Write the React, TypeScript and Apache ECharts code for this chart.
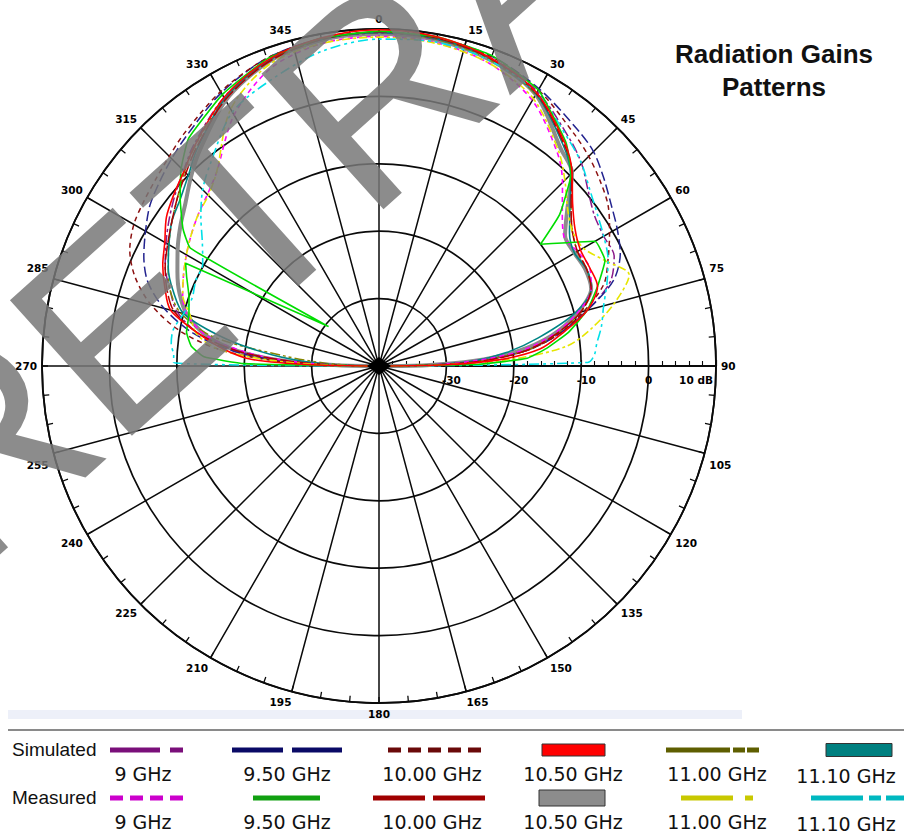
import React, { useEffect, useRef } from "react";
import * as echarts from "echarts";

// ---------- data (compass angle in degrees, gain in dB) ----------
const ANGLES = [-90, -89, -87, -84, -80, -75, -70, -65, -60, -55, -50, -45, -40, -30, -20, -10, 0, 10, 20, 30, 40, 45, 50, 55, 60, 65, 70, 75, 80, 84, 87, 89, 90];
const GREEN_ANGLES = [-90, -89, -87, -84, -80, -75, -70, -65, -62, -52, -58, -55, -50, -45, -40, -30, -20, -10, 0, 10, 20, 30, 40, 45, 50, 53, 60, 65, 70, 75, 80, 84, 87, 89, 90];

const SIM_9 = [-40, -32, -25, -19, -13, -9, -7, -5, -3.5, -2, -0.5, 1, 2.8, 6, 8.2, 9.2, 9.4, 9.2, 8.6, 7, 4, 2.5, 0.5, -1, -1.5, -1.5, -3.5, -8, -13, -18, -25, -32, -40];
const SIM_9_5 = [-40, -33, -25, -18, -12, -7, -3.5, -1.5, 0, 1.5, 2.5, 3.5, 4.5, 6.8, 8.6, 9.3, 9.5, 9.4, 8.9, 7.5, 5.8, 5, 3.5, 2, 0.8, -0.5, -3, -8, -13, -18, -25, -32, -40];
const SIM_10 = [-40, -32, -24, -16, -10, -5, -1.5, 0.8, 2, 2.6, 3.2, 4, 5, 7, 8.6, 9.3, 9.5, 9.3, 8.8, 7.3, 5, 4, 2.8, 1.5, -0.5, -2.5, -4.5, -8.5, -13, -18, -25, -32, -40];
const SIM_10_5 = [-40, -30, -21, -17, -13, -8, -6.2, -4.6, -3.3, -1.5, -0.3, 0.9, 2.6, 6, 8.3, 9.4, 9.9, 9.6, 8.6, 6.8, 3, 0.5, -2.5, -4.5, -5.5, -5.5, -5.5, -8, -12.5, -16, -22, -30, -40];
const SIM_11 = [-40, -36, -32, -26, -15, -9.5, -7, -5.5, -4, -2.5, -1, 0.8, 2.5, 5.8, 8.2, 9.2, 9.5, 9.2, 8.3, 6.5, 2.8, 0.4, -2.8, -5, -6, -6, -6.5, -9, -13.5, -18, -25, -32, -40];
const SIM_11_1 = [-40, -35, -30, -24, -17, -10, -7.5, -5.5, -4, -2.5, -1.5, 0, 2, 5.8, 8.2, 9.2, 9.5, 9.3, 8.5, 6.6, 2.6, 0.2, -3, -5.5, -6.5, -6, -6.5, -10, -16, -21, -26, -33, -40];

const MEAS_9 = [-40, -34, -27, -20, -14, -10.5, -9, -8, -7, -6, -5, -4, -2.5, 3, 7, 8.6, 8.9, 8.7, 7.8, 5.5, 1.2, -1.5, -4.5, -6.5, -6, -5.5, -6.5, -9.5, -14, -19, -26, -33, -40];
const MEAS_9_5 = [-40, -20, -14, -12, -11, -10.8, -10, -8.5, -7.5, -30.5, -7, -4.5, -1.5, 1.5, 4, 6.5, 8.5, 9.4, 9.7, 9.6, 9, 7.3, 3.2, 0.3, -5, -10, -3, -3, -5.5, -8, -11.5, -15, -18, -25, -40];
const MEAS_10 = [-40, -34, -27, -19, -13, -8.5, -6.5, -5, -3.8, -2.5, -1, 0.5, 2.2, 5.6, 8, 9.2, 9.6, 9.4, 8.5, 6.7, 2.8, 0.5, -2.8, -5, -6, -6, -6.5, -9, -13.5, -18, -24, -32, -40];
const MEAS_10_5 = [-40, -34, -26, -19, -14, -10.5, -8.5, -7, -5.5, -4, -2.5, -0.5, 1.5, 5.5, 8, 9.1, 9.3, 9.1, 8.3, 6.5, 2, 0.5, -3.5, -6.3, -6.5, -6.2, -6.5, -9.5, -14, -19.5, -26, -33, -40];
const MEAS_11 = [-40, -33, -24, -16, -12.5, -11, -9, -8, -7, -6, -5, -4.2, -2.5, 4, 7.6, 8.6, 8.8, 8.6, 7.8, 5.8, 1.5, -1, -3.5, -5, -5, -3, -0.5, -3.8, -8, -12, -20, -30, -40];
const MEAS_11_1 = [-40, -9.5, -9.5, -9, -9, -10, -10.5, -10, -9.8, -8, -5.5, -3, -1, 3.5, 5.5, 7.5, 8.5, 8.8, 8.2, 6.8, 3.8, 2.5, 0.8, -0.5, -1.5, -2.5, -4, -5.5, -6.5, -7.5, -8, -9, -40];

const FREQUENCIES = ["9 GHz", "9.50 GHz", "10.00 GHz", "10.50 GHz", "11.00 GHz", "11.10 GHz"];
const ROW_NAMES = ["Simulated", "Measured"];
const TITLE_LINES = ["Radiation Gains", "Patterns"];
const WATERMARK = "RETRACTED";
const RADIUS_MIN = -40;
const RADIUS_MAX = 10;
const RADIUS_STEP = 10;
const ANGLE_STEP = 15;

const SERIES_DEFS = [
  { row: 1, col: 3, angles: ANGLES, values: MEAS_10_5 },
  { row: 0, col: 0, angles: ANGLES, values: SIM_9 },
  { row: 0, col: 1, angles: ANGLES, values: SIM_9_5 },
  { row: 0, col: 2, angles: ANGLES, values: SIM_10 },
  { row: 0, col: 4, angles: ANGLES, values: SIM_11 },
  { row: 0, col: 5, angles: ANGLES, values: SIM_11_1 },
  { row: 1, col: 0, angles: ANGLES, values: MEAS_9 },
  { row: 1, col: 2, angles: ANGLES, values: MEAS_10 },
  { row: 1, col: 4, angles: ANGLES, values: MEAS_11 },
  { row: 1, col: 5, angles: ANGLES, values: MEAS_11_1 },
  { row: 1, col: 1, angles: GREEN_ANGLES, values: MEAS_9_5 },
  { row: 0, col: 3, angles: ANGLES, values: SIM_10_5 },
];

// ---------- styles ----------
const CX = 379;
const CY = 366;
const RADIUS = 337;

type LegendSpec = { kind: "line" | "rect"; x: number; len: number; dash?: number[]; h?: number };
type Sty = { color: string; legendColor: string; width: number; dash: number[] | "solid"; legend: LegendSpec };

// keyed "row-col"
const STYLES: Record<string, Sty> = {
  "0-0": { color: "#8a1a8a", legendColor: "#7a0f7a", width: 1.5, dash: [10, 3, 3, 3], legend: { kind: "line", x: 110, len: 73, dash: [50, 10, 13, 40] } },
  "0-1": { color: "#23238f", legendColor: "#0a0a66", width: 1.5, dash: [10, 4], legend: { kind: "line", x: 232, len: 110, dash: [51, 9] } },
  "0-2": { color: "#8b1010", legendColor: "#6a0a0a", width: 1.5, dash: [5, 4], legend: { kind: "line", x: 388, len: 93, dash: [13, 7] } },
  "0-3": { color: "#ff0000", legendColor: "#ff0000", width: 1.6, dash: "solid", legend: { kind: "rect", x: 542, len: 63, h: 12 } },
  "0-4": { color: "#858500", legendColor: "#5e5e00", width: 1.5, dash: [10, 3, 3, 3, 3, 3], legend: { kind: "line", x: 666, len: 93, dash: [64, 3, 12, 2, 12, 30] } },
  "0-5": { color: "#008585", legendColor: "#008080", width: 1.6, dash: "solid", legend: { kind: "rect", x: 826, len: 66, h: 13 } },
  "1-0": { color: "#ff00ff", legendColor: "#cc00cc", width: 1.6, dash: [5, 4], legend: { kind: "line", x: 110, len: 75, dash: [13, 7] } },
  "1-1": { color: "#00dd00", legendColor: "#11a011", width: 1.6, dash: "solid", legend: { kind: "line", x: 253, len: 67 } },
  "1-2": { color: "#b00000", legendColor: "#a00000", width: 1.5, dash: [14, 3], legend: { kind: "line", x: 373, len: 112, dash: [52, 8] } },
  "1-3": { color: "#8c8c8c", legendColor: "#8c8c8c", width: 4, dash: "solid", legend: { kind: "rect", x: 539, len: 66, h: 16 } },
  "1-4": { color: "#e6e600", legendColor: "#c8c800", width: 1.6, dash: [8, 3, 3, 3], legend: { kind: "line", x: 681, len: 72, dash: [52, 12, 8, 30] } },
  "1-5": { color: "#00e0e8", legendColor: "#00b8c0", width: 1.6, dash: [10, 4, 3, 4, 3, 4], legend: { kind: "line", x: 811, len: 93, dash: [52, 6, 12, 5, 18, 10] } },
};

const LEGEND_ROW_Y = [750, 798];
const LEGEND_LABEL_Y = [774, 822];
const LEGEND_COL_X = [143, 287, 432, 573, 717, 846];

const LABEL_FONT = "DejaVu Sans";
const AXIS_COLOR = "#0a0a0a";

const angleShift: Record<number, string> = { 15: "r", 165: "rr", 345: "l", 195: "l", 75: "u", 285: "u", 105: "d", 255: "d" };

function buildOption() {
  const base = { fontFamily: LABEL_FONT, fontSize: 10.5, fontWeight: "bold", color: "#000" };
  const series = SERIES_DEFS.map((d) => {
    const s = STYLES[`${d.row}-${d.col}`];
    return {
      type: "line",
      name: `${ROW_NAMES[d.row]} ${FREQUENCIES[d.col]}`,
      coordinateSystem: "polar",
      data: d.values.map((v, k) => [v, 360 + d.angles[k]]),
      symbol: "none",
      showSymbol: false,
      smooth: d.angles === GREEN_ANGLES ? 0.12 : 0.3,
      silent: true,
      z: d.row === 1 && d.col === 3 ? 2 : 3,
      lineStyle: { color: s.color, width: s.width, type: s.dash },
    };
  });

  const graphics: any[] = [];
  graphics.push({ type: "rect", z: -1, shape: { x: 8, y: 710, width: 734, height: 9 }, style: { fill: "#edf0f9" }, silent: true });
  graphics.push({ type: "line", shape: { x1: 8, y1: 730, x2: 904, y2: 730 }, style: { stroke: "#8a8a8a", lineWidth: 2 }, silent: true });
  ROW_NAMES.forEach((name, r) => {
    graphics.push({
      type: "text", x: 12, y: LEGEND_ROW_Y[r] - 1,
      style: { text: name, font: '19px "Liberation Sans"', fill: "#111", textAlign: "left", textVerticalAlign: "middle" },
    });
  });
  SERIES_DEFS.forEach((d) => {
    const s = STYLES[`${d.row}-${d.col}`];
    const y = LEGEND_ROW_Y[d.row];
    const L = s.legend;
    if (L.kind === "rect") {
      const h = L.h || 12;
      graphics.push({ type: "rect", shape: { x: L.x, y: y - h / 2, width: L.len, height: h }, style: { fill: s.legendColor, stroke: "#333", lineWidth: 1 } });
    } else {
      graphics.push({
        type: "line",
        shape: { x1: L.x, y1: y, x2: L.x + L.len, y2: y },
        style: { stroke: s.legendColor, lineWidth: 5, lineDash: L.dash || null, lineCap: "butt" },
      });
    }
    const ly = LEGEND_LABEL_Y[d.row] + (d.col === 5 ? 2 : 0);
    graphics.push({
      type: "text", x: LEGEND_COL_X[d.col], y: ly,
      style: { text: FREQUENCIES[d.col], font: `19px "${LABEL_FONT}"`, fill: "#111", textAlign: "center", textVerticalAlign: "middle" },
    });
  });
  TITLE_LINES.forEach((t, i) => {
    graphics.push({
      type: "text", x: 774, y: 54 + i * 33,
      style: { text: t, font: 'bold 26px "Liberation Sans"', fill: "#111", textAlign: "center", textVerticalAlign: "middle" },
    });
  });
  graphics.push({
    type: "polygon", z: 10,
    shape: { points: [[CX - 12, CY], [CX, CY - 9], [CX + 12, CY], [CX, CY + 9]] },
    style: { fill: "#000" },
  });
  graphics.push({
    type: "text", x: -88, y: 510, rotation: (42 * Math.PI) / 180, z: 50,
    style: { text: WATERMARK, font: '265px "Liberation Sans"', fill: "rgba(120,120,120,0.85)", textAlign: "left", textVerticalAlign: "middle" },
    silent: true,
  });

  return {
    animation: false,
    backgroundColor: "#ffffff",
    polar: { center: [CX, CY], radius: RADIUS },
    angleAxis: {
      type: "value",
      min: 90,
      max: 450,
      interval: ANGLE_STEP,
      startAngle: 0,
      clockwise: true,
      axisLine: { show: true, lineStyle: { color: AXIS_COLOR, width: 1.8 } },
      axisTick: { show: true, inside: true, length: 6, lineStyle: { color: AXIS_COLOR, width: 1.3 } },
      minorTick: { show: true, splitNumber: 3, length: 6, lineStyle: { color: AXIS_COLOR, width: 1.3 } },
      splitLine: { show: true, lineStyle: { color: AXIS_COLOR, width: 1.5 } },
      axisLabel: {
        show: true,
        margin: 5,
        ...base,
        formatter: (v: number) => {
          if (v >= 450) return "";
          const d = Math.round(v) % 360;
          const k = angleShift[d];
          return k ? `{${k}|${d}}` : String(d);
        },
        rich: {
          r: { ...base, padding: [0, 0, 0, 16] },
          rr: { ...base, padding: [0, 0, 0, 20] },
          l: { ...base, padding: [0, 20, 0, 0] },
          u: { ...base, padding: [0, 0, 18, 0] },
          d: { ...base, padding: [20, 0, 0, 0] },
        },
      },
    },
    radiusAxis: {
      type: "value",
      min: RADIUS_MIN,
      max: RADIUS_MAX,
      interval: RADIUS_STEP,
      axisLine: { show: true, lineStyle: { color: AXIS_COLOR, width: 1.8 } },
      axisTick: { show: true, length: 6, lineStyle: { color: AXIS_COLOR, width: 1.2 } },
      minorTick: { show: true, splitNumber: 5, length: 5, lineStyle: { color: AXIS_COLOR, width: 1.1 } },
      splitLine: { show: true, lineStyle: { color: AXIS_COLOR, width: 1.7 } },
      axisLabel: {
        show: true,
        margin: -14,
        verticalAlign: "middle",
        align: "center",
        ...base,
        formatter: (v: number) => (v === RADIUS_MIN ? "" : v === RADIUS_MAX ? `{e|${v} dB}` : v < 0 ? `{n|${v}}` : String(v)),
        rich: {
          e: { ...base, padding: [0, 40, 0, 0] },
          n: { ...base, padding: [0, 0, 0, 10] },
        },
      },
    },
    series,
    graphic: { elements: graphics },
  };
}

export default function App() {
  const ref = useRef<HTMLDivElement>(null);
  useEffect(() => {
    if (!ref.current) return;
    const chart = echarts.init(ref.current, undefined, { renderer: "svg" });
    chart.setOption(buildOption() as any);
    return () => chart.dispose();
  }, []);
  return (
    <div
      ref={ref}
      style={{ position: "absolute", left: 0, top: 0, width: 904, height: 834, background: "#fff" }}
    />
  );
}
